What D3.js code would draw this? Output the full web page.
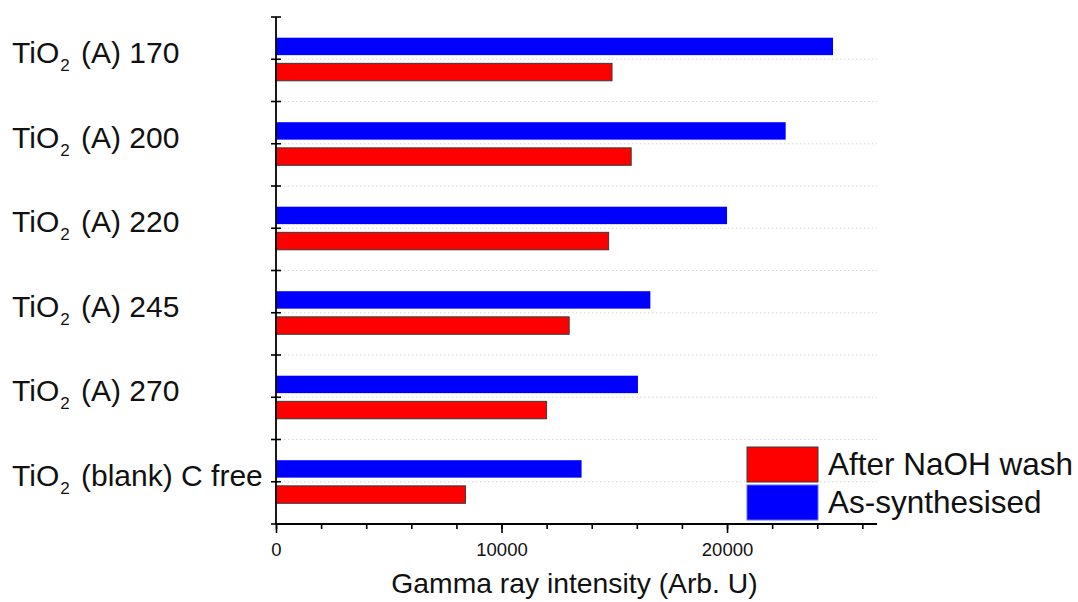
<!DOCTYPE html>
<html>
<head>
<meta charset="utf-8">
<script src="https://cdn.jsdelivr.net/npm/d3@7"></script>
<style>
  html, body { margin: 0; padding: 0; background: #fff; }
  svg { display: block; font-family: "Liberation Sans", Arial, sans-serif; }
</style>
</head>
<body>
<svg id="chart" width="1078" height="602"></svg>
<script>
// Sample names (the "2" after TiO is drawn as a subscript)
const categories = ["TiO2 (A) 170", "TiO2 (A) 200", "TiO2 (A) 220", "TiO2 (A) 245", "TiO2 (A) 270", "TiO2 (blank) C free"];
// Gamma ray intensity per sample
const asSynthesised = [24700, 22600, 20000, 16600, 16050, 13550];
const afterNaOH = [14900, 15750, 14750, 13000, 12000, 8400];
const seriesNames = ["As-synthesised", "After NaOH wash"];
const legendOrder = ["After NaOH wash", "As-synthesised"];
const xMajorTicks = [0, 10000, 20000];
const xAxisTitle = "Gamma ray intensity (Arb. U)";

const colors = { "As-synthesised": "#0000ff", "After NaOH wash": "#ff0000" };
const strokes = { "As-synthesised": "none", "After NaOH wash": "#3a3a3a" };
const valuesBySeries = { "As-synthesised": asSynthesised, "After NaOH wash": afterNaOH };

const svg = d3.select("#chart");
const plotLeft = 276, plotRight = 877, plotTop = 17, plotBottom = 524;

const x = d3.scaleLinear().domain([0, 26650]).range([plotLeft, plotRight]);
const y = d3.scaleBand().domain(categories).range([plotTop, plotBottom]).padding(0);
const bw = y.bandwidth();
const ySub = d3.scaleBand().domain(seriesNames)
  .range([bw * 0.245, bw * 0.755]).paddingInner(0.32).paddingOuter(0);

// dotted horizontal grid at every band edge and band centre
const gridYs = [];
categories.forEach(c => { gridYs.push(y(c)); gridYs.push(y(c) + bw / 2); });
svg.append("g").selectAll("line").data(gridYs.slice(1)).join("line")
  .attr("x1", plotLeft).attr("x2", plotRight)
  .attr("y1", d => d).attr("y2", d => d)
  .attr("stroke", "#d6d6d6").attr("stroke-width", 1)
  .attr("stroke-dasharray", "1.5,2.5");

// bars
const rows = [];
categories.forEach((c, i) => seriesNames.forEach(s => rows.push({ c, s, v: valuesBySeries[s][i] })));
svg.append("g").selectAll("rect").data(rows).join("rect")
  .attr("x", x(0))
  .attr("y", d => y(d.c) + ySub(d.s))
  .attr("width", d => x(d.v) - x(0))
  .attr("height", ySub.bandwidth())
  .attr("fill", d => colors[d.s])
  .attr("stroke", d => strokes[d.s])
  .attr("stroke-width", 1);

// x axis: minor ticks every 2000, labels every 10000
const xAxis = d3.axisBottom(x).tickValues(d3.range(0, 26001, 2000))
  .tickSize(5).tickFormat("");
const gx = svg.append("g").attr("transform", `translate(0,${plotBottom})`).call(xAxis);
gx.select(".domain").attr("stroke", "#000").attr("stroke-width", 1.8).attr("d", `M${plotLeft},0H${plotRight}`);
gx.selectAll(".tick line").attr("stroke", "#000").attr("stroke-width", 1.6);
const gxMajor = svg.append("g").attr("transform", `translate(0,${plotBottom})`)
  .call(d3.axisBottom(x).tickValues(xMajorTicks).tickSize(9).tickPadding(10).tickFormat(d3.format("d")));
gxMajor.select(".domain").remove();
gxMajor.selectAll(".tick line").attr("stroke", "#000").attr("stroke-width", 1.6);
gxMajor.selectAll(".tick text").attr("font-size", 18.5).attr("fill", "#111")
  .attr("font-family", "'Liberation Sans', Arial, sans-serif");

// y axis line with ticks crossing it at band edges and centres
svg.append("line").attr("x1", plotLeft).attr("x2", plotLeft).attr("y1", plotTop).attr("y2", plotBottom)
  .attr("stroke", "#000").attr("stroke-width", 1.8);
svg.append("g").selectAll("line").data(gridYs.concat([plotBottom])).join("line")
  .attr("x1", plotLeft - 5).attr("x2", plotLeft + 5)
  .attr("y1", d => d).attr("y2", d => d)
  .attr("stroke", "#000").attr("stroke-width", 1.6);

// category labels with subscript
const lab = svg.append("g").selectAll("text").data(categories).join("text")
  .attr("x", 12).attr("y", d => y(d) + bw / 2 + 4)
  .attr("font-size", 30).attr("fill", "#111");
lab.each(function (d) {
  const t = d3.select(this);
  const m = d.match(/^(TiO)(2)(.*)$/);
  t.append("tspan").text(m[1]);
  t.append("tspan").text(m[2]).attr("font-size", 17).attr("dy", 8).attr("dx", 1);
  t.append("tspan").text(m[3]).attr("dy", -8).attr("dx", 3);
});

// x axis title
svg.append("text").attr("x", (plotLeft + plotRight) / 2 - 2).attr("y", 593)
  .attr("text-anchor", "middle").attr("font-size", 28.3).attr("fill", "#111")
  .text(xAxisTitle);

// legend
const lg = svg.append("g").attr("transform", "translate(747,447)");
legendOrder.forEach((s, i) => {
  lg.append("rect").attr("x", 0).attr("y", i * 38).attr("width", 71).attr("height", 35)
    .attr("fill", colors[s])
    .attr("stroke", s === "After NaOH wash" ? "#3a3a3a" : "#6a6aff").attr("stroke-width", 1);
  lg.append("text").attr("x", 81).attr("y", i * 38 + 28)
    .attr("font-size", 31.5).attr("fill", "#111").text(s);
});
</script>
</body>
</html>
